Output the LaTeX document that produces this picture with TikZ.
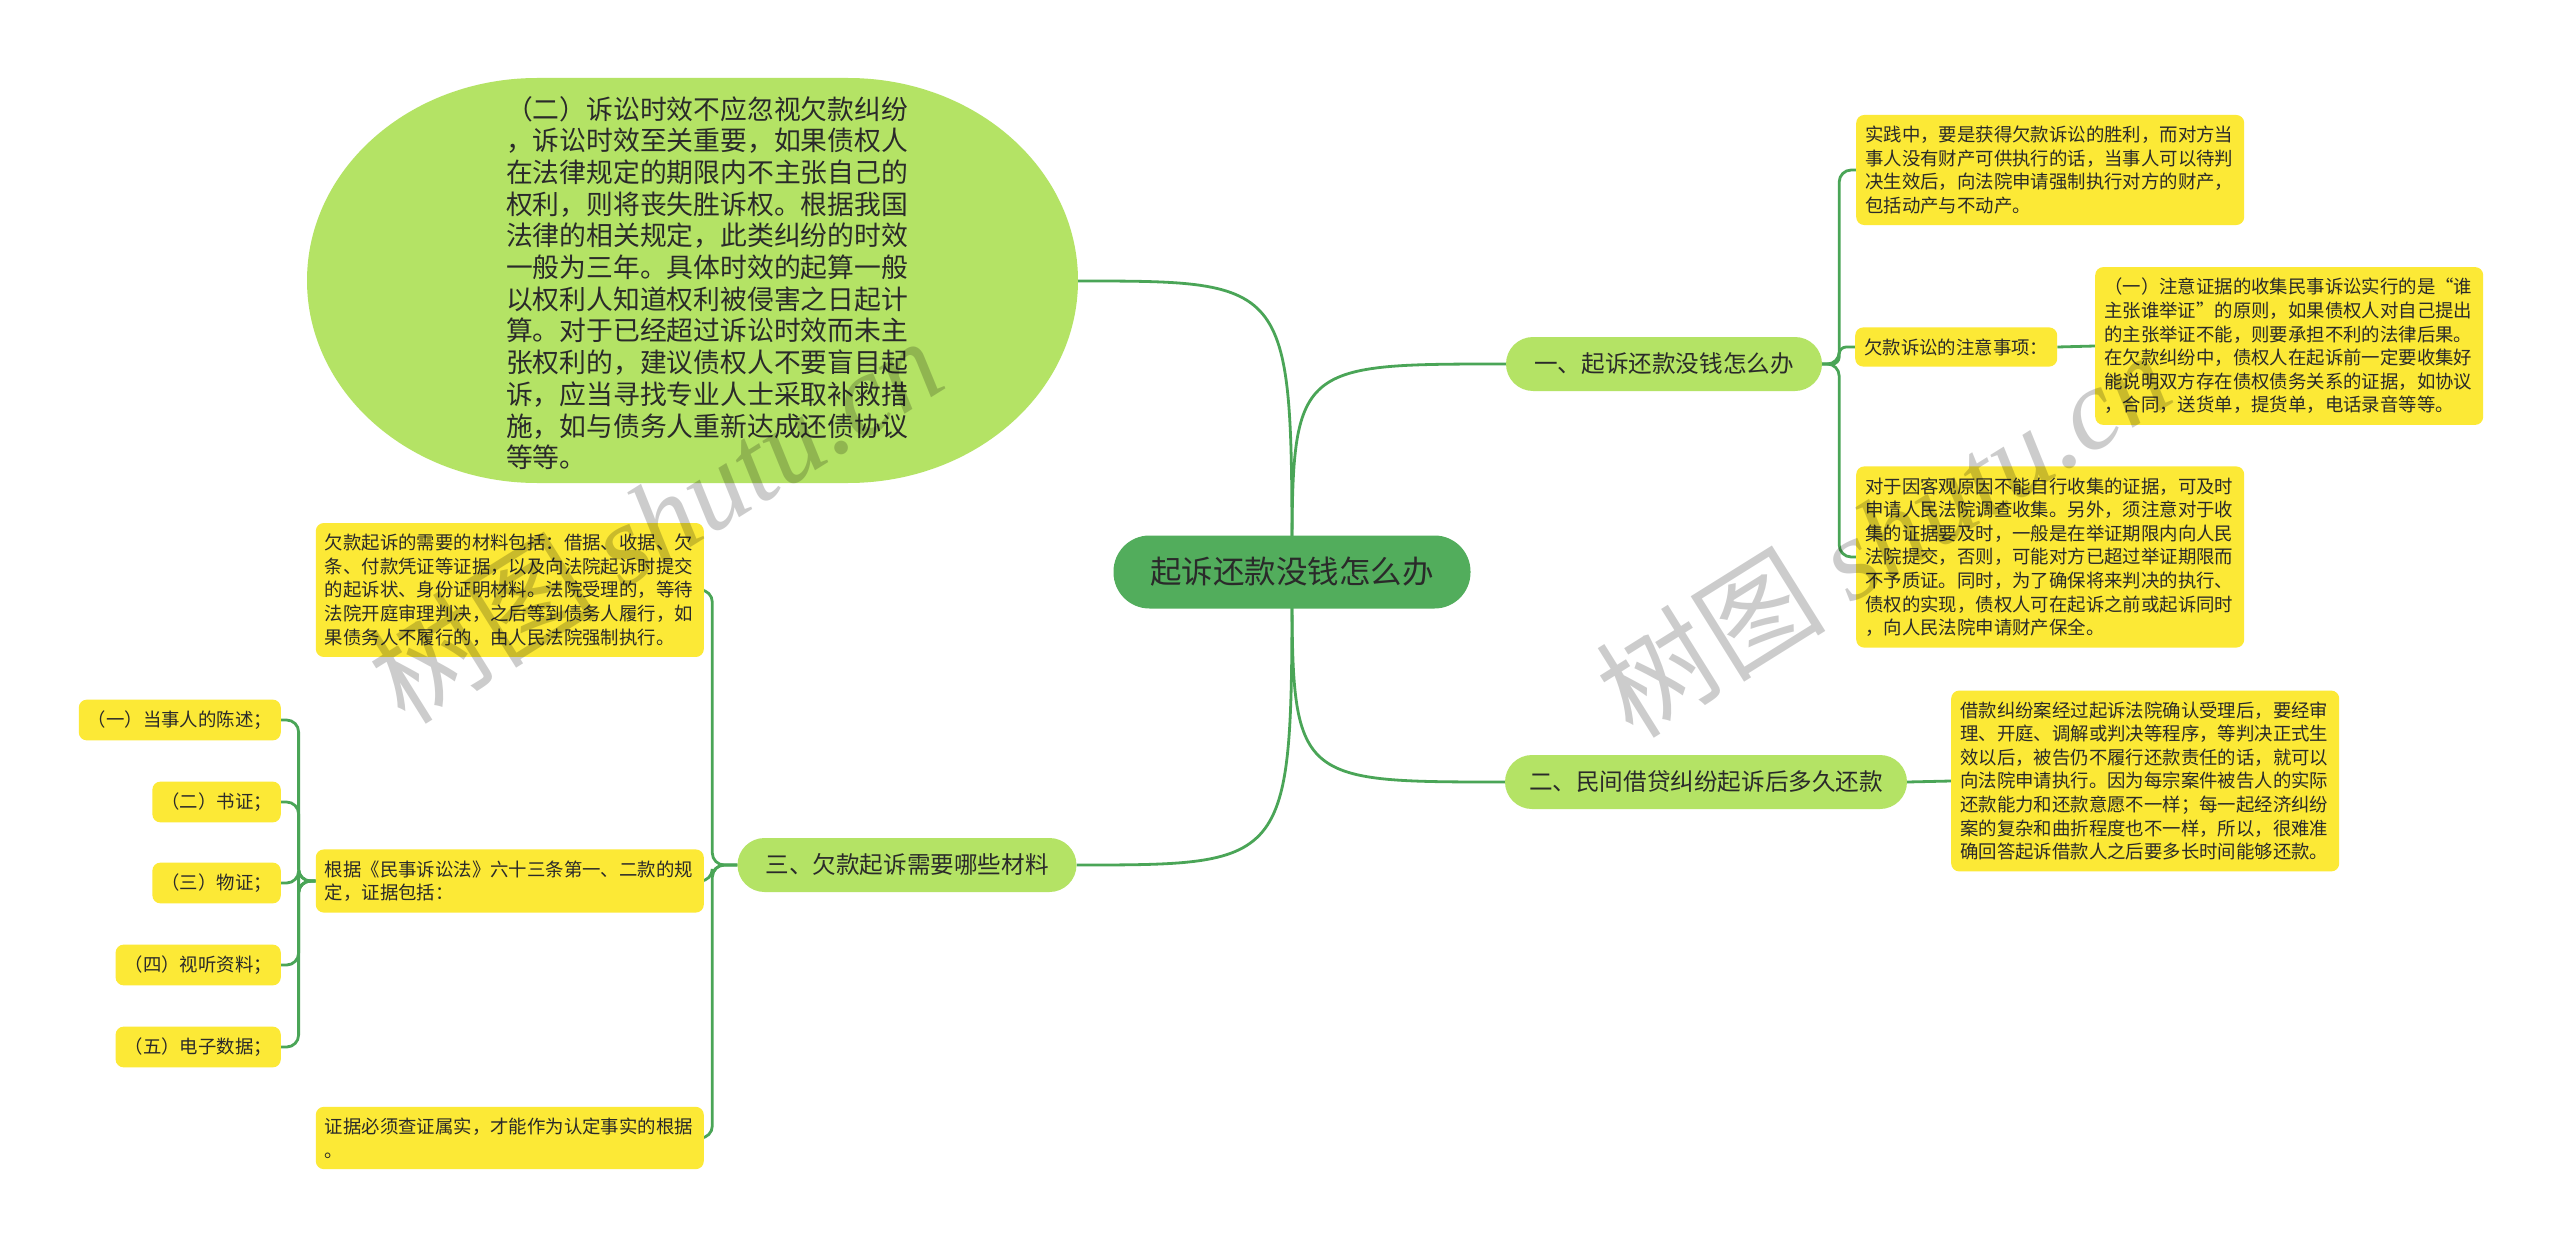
\documentclass[tikz,border=0pt]{standalone}
\usepackage{fontspec}
\setmainfont{Noto Sans CJK SC}
\newfontfamily\wmlatin{Liberation Serif}
\usetikzlibrary{calc}
\pgfdeclarelayer{bg}\pgfdeclarelayer{lines}\pgfdeclarelayer{wm}
\pgfsetlayers{bg,lines,main,wm}
\definecolor{lg}{HTML}{B4E365}
\definecolor{yl}{HTML}{FCE936}
\definecolor{rootg}{HTML}{52AD5C}
\definecolor{ln}{HTML}{4AA557}
\definecolor{tx}{HTML}{2A2A2A}
\tikzset{
  ybox/.style={fill=yl, rounded corners=8pt, align=left, text=tx,
    font=\fontsize{18.4}{23.6}\selectfont, inner xsep=9pt, inner ysep=11pt},
  ywide/.style={ybox, text width=370pt},
  brnode/.style={fill=lg, rounded corners=27pt, minimum height=54pt, text=tx,
    font=\fontsize{23.6}{28}\selectfont, inner sep=0pt},
  conn/.style={draw=ln, line width=2.8pt},
  wmark/.style={rotate=32, text=black, opacity=0.2,
    font=\fontsize{115}{120}\selectfont},
}
\begin{document}
\begin{tikzpicture}[x=1pt,y=-1pt]
\begin{pgfonlayer}{bg}
\fill[white] (0,0) rectangle (2560,1252);
\end{pgfonlayer}
\useasboundingbox (0,0) rectangle (2560,1252);

% root
\node[fill=rootg, rounded corners=36pt, minimum width=357pt, minimum height=73pt,
  font=\fontsize{31.5}{36}\selectfont, text=tx, inner sep=0pt] (root) at (1292,572) {起诉还款没钱怎么办};

% branches
\node[brnode, minimum width=316pt] (b1) at (1664,364) {一、起诉还款没钱怎么办};
\node[brnode, minimum width=402pt] (b2) at (1706,782) {二、民间借贷纠纷起诉后多久还款};
\node[brnode, minimum width=339pt] (b3) at (907,865) {三、欠款起诉需要哪些材料};

% big green shape text
\node[align=left, text=tx, font=\fontsize{26.8}{31.7}\selectfont, inner sep=0pt] (e) at (707,283) {%
（二）诉讼时效不应忽视欠款纠纷\\
，诉讼时效至关重要，如果债权人\\
在法律规定的期限内不主张自己的\\
权利，则将丧失胜诉权。根据我国\\
法律的相关规定，此类纠纷的时效\\
一般为三年。具体时效的起算一般\\
以权利人知道权利被侵害之日起计\\
算。对于已经超过诉讼时效而未主\\
张权利的，建议债权人不要盲目起\\
诉，应当寻找专业人士采取补救措\\
施，如与债务人重新达成还债协议\\
等等。};
\coordinate (eR) at (1078,281);
\begin{pgfonlayer}{bg}
\fill[lg] (537,78) -- (848,78)
  arc[start angle=90, end angle=0, x radius=230pt, y radius=202.5pt]
  arc[start angle=0, end angle=-90, x radius=230pt, y radius=202.5pt]
  -- (537,483)
  arc[start angle=-90, end angle=-180, x radius=230pt, y radius=202.5pt]
  arc[start angle=180, end angle=90, x radius=230pt, y radius=202.5pt] -- cycle;
\end{pgfonlayer}

% right side children
\node[ywide, anchor=west] (y1) at (1856,170) {实践中，要是获得欠款诉讼的胜利，而对方当\\事人没有财产可供执行的话，当事人可以待判\\决生效后，向法院申请强制执行对方的财产，\\包括动产与不动产。};
\node[ybox, anchor=west] (y2) at (1855,347) {欠款诉讼的注意事项：};
\node[ywide, anchor=west] (y3) at (2095,346) {（一）注意证据的收集民事诉讼实行的是“谁\\主张谁举证”的原则，如果债权人对自己提出\\的主张举证不能，则要承担不利的法律后果。\\在欠款纠纷中，债权人在起诉前一定要收集好\\能说明双方存在债权债务关系的证据，如协议\\，合同，送货单，提货单，电话录音等等。};
\node[ywide, anchor=west] (y4) at (1856,557) {对于因客观原因不能自行收集的证据，可及时\\申请人民法院调查收集。另外，须注意对于收\\集的证据要及时，一般是在举证期限内向人民\\法院提交，否则，可能对方已超过举证期限而\\不予质证。同时，为了确保将来判决的执行、\\债权的实现，债权人可在起诉之前或起诉同时\\，向人民法院申请财产保全。};
\node[ywide, anchor=west] (y5) at (1951,781) {借款纠纷案经过起诉法院确认受理后，要经审\\理、开庭、调解或判决等程序，等判决正式生\\效以后，被告仍不履行还款责任的话，就可以\\向法院申请执行。因为每宗案件被告人的实际\\还款能力和还款意愿不一样；每一起经济纠纷\\案的复杂和曲折程度也不一样，所以，很难准\\确回答起诉借款人之后要多长时间能够还款。};

% left side children
\node[ywide, anchor=east] (l1) at (704,590) {欠款起诉的需要的材料包括：借据、收据、欠\\条、付款凭证等证据，以及向法院起诉时提交\\的起诉状、身份证明材料。法院受理的，等待\\法院开庭审理判决，之后等到债务人履行，如\\果债务人不履行的，由人民法院强制执行。};
\node[ywide, anchor=east] (l2) at (704,881) {根据《民事诉讼法》六十三条第一、二款的规\\定，证据包括：};
\node[ywide, anchor=east] (l3) at (704,1138) {证据必须查证属实，才能作为认定事实的根据\\。};

\node[ybox, anchor=east] (i1) at (281,720) {（一）当事人的陈述；};
\node[ybox, anchor=east] (i2) at (281,802) {（二）书证；};
\node[ybox, anchor=east] (i3) at (281,883) {（三）物证；};
\node[ybox, anchor=east] (i4) at (281,965) {（四）视听资料；};
\node[ybox, anchor=east] (i5) at (281,1047) {（五）电子数据；};

% connectors
\coordinate (t1) at ($(b1.east)+(17,0)$);
\coordinate (t3) at ($(b3.west)+(-25,0)$);
\coordinate (t2) at ($(l2.west)+(-17,0)$);
\begin{pgfonlayer}{lines}
\draw[conn] (root.center) .. controls (root.center |- b1.west) .. (b1.west);
\draw[conn] (root.center) .. controls (root.center |- b2.west) .. (b2.west);
\draw[conn] (root.center) .. controls (root.center |- b3.east) .. (b3.east);
\draw[conn] (root.center) .. controls (root.center |- eR) .. (eR);
\draw[conn, rounded corners=12pt] (b1.east) -- (t1) |- (y1.west);
\draw[conn, rounded corners=7pt] (b1.east) -- (t1) |- (y2.west);
\draw[conn, rounded corners=12pt] (b1.east) -- (t1) |- (y4.west);
\draw[conn] (y2.east) -- (y3.west);
\draw[conn] (b2.east) -- (y5.west);
\draw[conn, rounded corners=12pt] (b3.west) -- (t3) |- (l1.east);
\draw[conn, rounded corners=12pt] (b3.west) -- (t3) |- (l2.east);
\draw[conn, rounded corners=12pt] (b3.west) -- (t3) |- (l3.east);
\foreach \i in {i1,i2,i3,i4,i5}{
  \draw[conn, rounded corners=12pt] (l2.west) -- (t2) |- (\i.east);
}
\end{pgfonlayer}

% watermarks
\begin{pgfonlayer}{wm}
\node[wmark] (wm1) at (655,519) {树图 {\wmlatin\itshape shutu.cn}};
\node[wmark] (wm2) at (1883,533) {树图 {\wmlatin\itshape shutu.cn}};
\end{pgfonlayer}
\end{tikzpicture}
\end{document}
